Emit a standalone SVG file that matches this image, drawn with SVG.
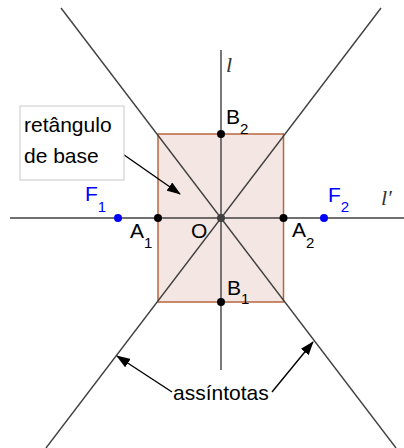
<svg xmlns="http://www.w3.org/2000/svg" width="404" height="448" viewBox="0 0 404 448">
<defs>
<style>
.ln{stroke:#404040;stroke-width:1.4;fill:none}
.ar{stroke:#000;stroke-width:1.4;fill:none;marker-end:url(#ah)}
.t{font-family:"Liberation Sans",Arial,sans-serif;font-size:21px;fill:#000}
.s{font-size:15px}
.bl{fill:#0000ff}
.it{font-family:"Liberation Serif","Times New Roman",serif;font-style:italic;font-size:22px;fill:#333}
.pt{fill:#000}
.fp{fill:#0000ff}
</style>
<marker id="ah" viewBox="0 0 14 10" refX="13" refY="5" markerWidth="14" markerHeight="10" markerUnits="userSpaceOnUse" orient="auto">
<path d="M0,0 L14,5 L0,10 Z" fill="#000"/>
</marker>
</defs>
<g id="rect">
<rect x="158" y="134" width="125.5" height="168" fill="#f4e7e3" stroke="#b9653f" stroke-width="1.5"/>
</g>
<g id="connectors">
<line class="ln" x1="10" y1="218" x2="404" y2="218"/>
<line class="ln" x1="221" y1="50" x2="221" y2="370"/>
<line class="ln" x1="61" y1="8" x2="396" y2="448"/>
<line class="ln" x1="381" y1="8" x2="46" y2="448"/>
<line class="ar" x1="107" y1="143" x2="180" y2="194"/>
<line class="ar" x1="172" y1="392" x2="117" y2="356"/>
<line class="ar" x1="272" y1="392" x2="313" y2="342"/>
</g>
<g id="label-box">
<rect x="20" y="106" width="104" height="74" fill="#fff" stroke="#d3d3d3" stroke-width="1.2"/>
<text class="t" x="24" y="132">retângulo</text>
<text class="t" x="24" y="163">de base</text>
</g>
<g id="F1"><circle class="fp" cx="118" cy="218" r="4"/><text class="t bl" x="85" y="201">F<tspan class="s" dy="11">1</tspan></text></g>
<g id="A1"><circle class="pt" cx="158" cy="218" r="4"/><text class="t" x="130" y="238">A<tspan class="s" dy="10">1</tspan></text></g>
<g id="O"><circle cx="221" cy="218" r="4" fill="#404040"/><text class="t" x="191" y="238" fill="#333">O</text></g>
<g id="A2"><circle class="pt" cx="283.5" cy="218" r="4"/><text class="t" x="292" y="237">A<tspan class="s" dy="11">2</tspan></text></g>
<g id="F2"><circle class="fp" cx="324" cy="218" r="4"/><text class="t bl" x="328" y="202">F<tspan class="s" dy="10">2</tspan></text></g>
<g id="B2"><circle class="pt" cx="221" cy="134" r="4"/><text class="t" x="226" y="124">B<tspan class="s" dy="10">2</tspan></text></g>
<g id="B1"><circle class="pt" cx="221" cy="302" r="4"/><text class="t" x="227" y="295">B<tspan class="s" dy="9">1</tspan></text></g>
<g id="l"><text class="it" x="226" y="72">l</text></g>
<g id="lprime"><text class="it" x="381" y="205">l′</text></g>
<g id="assintotas"><text class="t" x="173" y="400">assíntotas</text></g>
</svg>
